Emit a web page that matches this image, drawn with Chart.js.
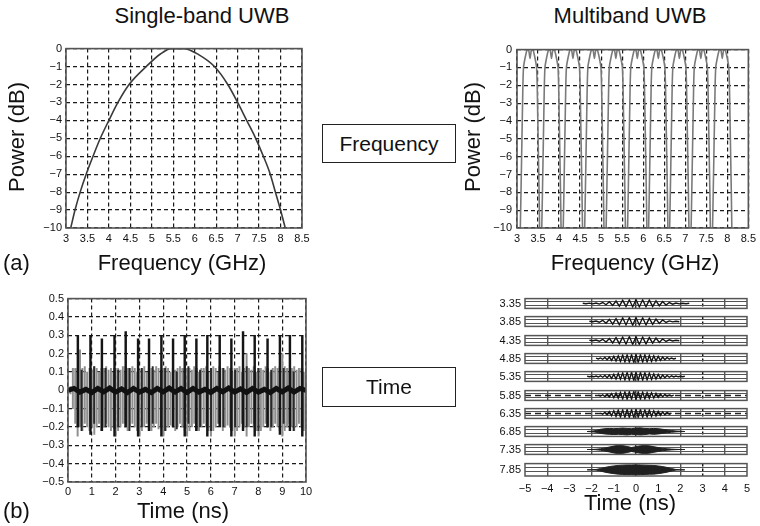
<!DOCTYPE html>
<html><head><meta charset="utf-8">
<script src="https://cdn.jsdelivr.net/npm/chart.js@4/dist/chart.umd.min.js"></script>
<style>
html,body{margin:0;padding:0;background:#fff;}
#fig{position:relative;width:760px;height:526px;overflow:hidden;font-family:'Liberation Sans',Arial,sans-serif;color:#111;}
canvas{position:absolute;}
.t{position:absolute;white-space:nowrap;line-height:1;}
.box{position:absolute;border:1.3px solid #222;box-sizing:border-box;display:flex;align-items:center;justify-content:center;font-size:21px;}
</style></head><body><div id="fig"></div>
<script>
// ---------------- data ----------------
// (a) single-band spectrum
const sbFreq  = [3.11,3.21,3.33,3.47,3.63,3.8,4.0,4.21,4.47,4.87,5.2,5.45,5.6,5.75,6.1,6.46,6.77,7.0,7.21,7.42,7.6,7.76,7.88,8.0,8.11];
const sbPower = [-10,-9,-8,-7,-6,-5,-4,-3,-2,-1,-0.3,0,0,0,-0.35,-1,-2,-3,-4,-5,-6,-7,-8,-9,-10];
// (a) multiband spectrum: band centres and band shape (offset GHz, dB)
const mbCenters = [3.31,3.82,4.33,4.84,5.35,5.86,6.36,6.86,7.37,7.88];
const bandOffsets = [-0.235,-0.215,-0.2,-0.185,-0.17,-0.155,-0.12,-0.07,-0.03,0,0.03,0.07,0.12,0.155,0.17,0.185,0.2,0.215,0.23];
const bandPower   = [-10.5,-8,-6,-4,-2,-1,-0.5,0,-0.05,-0.5,-0.05,0,-0.5,-1,-2,-4,-6,-8,-10.5];
const freqTicks = [3,3.5,4,4.5,5,5.5,6,6.5,7,7.5,8,8.5];
const powerTicks = [0,-1,-2,-3,-4,-5,-6,-7,-8,-9,-10];

// (b) single-band time signal
const bodyT = [0.05,0.15,0.25,0.35,0.45,0.55,0.65,0.75,0.85,0.95,1.05,1.15,1.25,1.35,1.45,1.55,1.65,1.75,1.85,1.95,2.05,2.15,2.25,2.35,2.45,2.55,2.65,2.75,2.85,2.95,3.05,3.15,3.25,3.35,3.45,3.55,3.65,3.75,3.85,3.95,4.05,4.15,4.25,4.35,4.45,4.55,4.65,4.75,4.85,4.95,5.05,5.15,5.25,5.35,5.45,5.55,5.65,5.75,5.85,5.95,6.05,6.15,6.25,6.35,6.45,6.55,6.65,6.75,6.85,6.95,7.05,7.15,7.25,7.35,7.45,7.55,7.65,7.75,7.85,7.95,8.05,8.15,8.25,8.35,8.45,8.55,8.65,8.75,8.85,8.95,9.05,9.15,9.25,9.35,9.45,9.55,9.65,9.75,9.85,9.95];
const bodyHi = [0.02,0.12,0.12,0.1,0.22,0.12,0.13,0.1,0.12,0.11,
  0.13,0.12,0.1,0.12,0.12,0.13,0.11,0.12,0.1,0.12,
  0.12,0.11,0.13,0.1,0.12,0.12,0.13,0.12,0.1,0.11,
  0.12,0.13,0.1,0.12,0.12,0.11,0.13,0.12,0.1,0.12,
  0.13,0.12,0.1,0.12,0.11,0.12,0.13,0.12,0.1,0.12,
  0.12,0.11,0.13,0.12,0.1,0.12,0.12,0.13,0.1,0.12,
  0.13,0.12,0.1,0.12,0.12,0.11,0.13,0.12,0.1,0.12,
  0.12,0.13,0.1,0.12,0.2,0.12,0.11,0.13,0.1,0.12,
  0.12,0.11,0.13,0.12,0.1,0.12,0.13,0.12,0.1,0.2,
  0.13,0.12,0.1,0.12,0.13,0.11,0.12,0.12,0.1,0.12];
const bodyLo = [-0.02,-0.1,-0.18,-0.25,-0.2,-0.22,-0.18,-0.2,-0.22,-0.2,
  -0.24,-0.2,-0.18,-0.22,-0.2,-0.18,-0.2,-0.22,-0.2,-0.25,
  -0.22,-0.2,-0.18,-0.2,-0.22,-0.2,-0.18,-0.2,-0.22,-0.25,
  -0.22,-0.2,-0.18,-0.2,-0.22,-0.2,-0.18,-0.21,-0.2,-0.25,
  -0.22,-0.2,-0.19,-0.2,-0.22,-0.2,-0.18,-0.2,-0.22,-0.25,
  -0.22,-0.2,-0.18,-0.21,-0.22,-0.2,-0.18,-0.2,-0.22,-0.25,
  -0.22,-0.2,-0.18,-0.2,-0.22,-0.2,-0.19,-0.2,-0.22,-0.25,
  -0.22,-0.2,-0.18,-0.2,-0.25,-0.2,-0.18,-0.2,-0.22,-0.25,
  -0.22,-0.2,-0.18,-0.2,-0.22,-0.2,-0.18,-0.2,-0.22,-0.25,
  -0.22,-0.2,-0.18,-0.2,-0.22,-0.2,-0.18,-0.2,-0.22,-0.25];
const spikeT  = [0.49,1.02,1.5,2.03,2.5,3.02,3.48,4.0,4.49,4.98,5.47,5.93,6.45,6.94,7.43,7.92,8.46,8.98,9.4,9.92];
const spikeHi = [0.30,0.30,0.28,0.30,0.32,0.28,0.28,0.30,0.28,0.30,0.28,0.30,0.30,0.28,0.32,0.30,0.28,0.30,0.30,0.30];
const spikeLo = [-0.2,-0.24,-0.22,-0.25,-0.2,-0.25,-0.22,-0.25,-0.2,-0.25,-0.22,-0.25,-0.2,-0.25,-0.22,-0.25,-0.2,-0.24,-0.22,-0.25];
const darkT  = [0.41,0.57,0.94,1.1,1.42,1.58,1.95,2.11,2.42,2.58,2.94,3.1,3.4,3.56,3.92,4.08,4.41,4.57,4.9,5.06,5.39,5.55,5.85,6.01,6.37,6.53,6.86,7.02,7.35,7.51,7.84,8.0,8.38,8.54,8.9,9.06,9.32,9.48,9.84];
const darkHi = [0.12,0.11,0.12,0.13,0.1,0.12,0.12,0.11,0.13,0.12,0.1,0.12,0.12,0.13,0.11,0.12,0.12,0.1,0.12,0.13,0.12,0.11,0.1,0.12,0.13,0.12,0.12,0.11,0.12,0.13,0.1,0.12,0.12,0.11,0.13,0.12,0.12,0.1,0.12];
const darkLo = [-0.2,-0.22,-0.2,-0.18,-0.22,-0.2,-0.21,-0.2,-0.18,-0.22,-0.2,-0.2,-0.22,-0.18,-0.2,-0.22,-0.2,-0.21,-0.2,-0.18,-0.22,-0.2,-0.2,-0.22,-0.18,-0.2,-0.22,-0.2,-0.21,-0.2,-0.18,-0.22,-0.2,-0.2,-0.22,-0.18,-0.2,-0.22,-0.2];
const coreT = [0,0.25,0.5,0.75,1,1.25,1.5,1.75,2,2.25,2.5,2.75,3,3.25,3.5,3.75,4,4.25,4.5,4.75,5,5.25,5.5,5.75,6,6.25,6.5,6.75,7,7.25,7.5,7.75,8,8.25,8.5,8.75,9,9.25,9.5,9.75,10];
const coreY = [0,0.01,-0.01,0.005,-0.012,0.01,-0.008,0.012,-0.01,0.008,-0.012,0.01,-0.01,0.005,-0.012,0.01,-0.008,0.012,-0.01,0.01,-0.012,0.01,-0.01,0.005,-0.012,0.01,-0.008,0.012,-0.01,0.008,-0.012,0.01,-0.01,0.005,-0.012,0.01,-0.008,0.012,-0.01,0.01,0];
const timeTicksSB = [0,1,2,3,4,5,6,7,8,9,10];
const ampTicks = [0.5,0.4,0.3,0.2,0.1,0,-0.1,-0.2,-0.3,-0.4,-0.5];

// (b) multiband time signals (one strip per band)
const stripLabels = ['3.35','3.85','4.35','4.85','5.35','5.85','6.35','6.85','7.35','7.85'];
const waveTslow = [-2.4,-2.25,-2.1,-1.95,-1.8,-1.65,-1.5,-1.35,-1.2,-1.05,-0.9,-0.75,-0.6,-0.45,-0.3,-0.15,0,0.15,0.3,0.45,0.6,0.75,0.9,1.05,1.2,1.35,1.5,1.65,1.8,1.95,2.1,2.25,2.4];
const waveTfast = [-2.5,-2.4,-2.3,-2.2,-2.1,-2,-1.9,-1.8,-1.7,-1.6,-1.5,-1.4,-1.3,-1.2,-1.1,-1,-0.9,-0.8,-0.7,-0.6,-0.5,-0.4,-0.3,-0.2,-0.1,0,0.1,0.2,0.3,0.4,0.5,0.6,0.7,0.8,0.9,1,1.1,1.2,1.3,1.4,1.5,1.6,1.7,1.8,1.9,2,2.1,2.2,2.3,2.4,2.5];
const wave335 = [0.05,-0.05,0.08,-0.08,0.1,-0.12,0.2,-0.25,0.35,-0.4,0.5,-0.55,0.65,-0.6,0.75,-0.7,0.8,-0.7,0.75,-0.65,0.7,-0.6,0.55,-0.45,0.4,-0.3,0.2,-0.15,0.1,-0.08,0.06,-0.05,0.04];
const wave385 = [null,null,0.05,-0.06,0.1,-0.15,0.25,-0.35,0.45,-0.55,0.6,-0.65,0.75,-0.7,0.8,-0.75,0.8,-0.7,0.75,-0.7,0.65,-0.6,0.5,-0.4,0.3,-0.2,0.12,-0.08,0.05,-0.04,null,null,null];
const wave435 = [null,null,0.04,-0.05,0.1,-0.15,0.25,-0.3,0.4,-0.5,0.6,-0.65,0.7,-0.75,0.8,-0.8,0.75,-0.8,0.7,-0.7,0.6,-0.55,0.5,-0.4,0.3,-0.2,0.15,-0.1,0.05,-0.04,null,null,null];
const wave485 = [null,null,null,null,null,null,null,0.06,-0.08,0.12,-0.15,0.22,-0.25,0.3,-0.38,0.45,-0.5,0.55,-0.62,0.7,-0.7,0.75,-0.75,0.8,-0.85,0.85,-0.8,0.8,-0.75,0.75,-0.7,0.62,-0.62,0.55,-0.5,0.45,-0.38,0.3,-0.25,0.2,-0.15,0.1,-0.08,0.05,null,null,null,null,null,null,null];
const wave535 = [null,null,null,0.05,-0.05,0.06,-0.06,0.1,-0.1,0.15,-0.15,0.22,-0.25,0.3,-0.38,0.45,-0.5,0.62,-0.56,0.75,-0.7,0.85,-0.75,0.9,-0.85,0.9,-0.8,0.85,-0.75,0.8,-0.7,0.7,-0.62,0.56,-0.5,0.45,-0.38,0.3,-0.25,0.2,-0.15,0.12,-0.1,0.08,-0.06,0.06,-0.05,0.05,null,null,null];
const wave585 = [null,null,null,null,null,null,null,null,0.08,-0.1,0.15,-0.2,0.25,-0.3,0.38,-0.45,0.5,-0.56,0.62,-0.7,0.75,-0.75,0.8,-0.75,0.85,-0.8,0.75,-0.75,0.7,-0.7,0.62,-0.56,0.56,-0.5,0.45,-0.38,0.3,-0.25,0.2,-0.15,0.12,-0.08,0.06,null,null,null,null,null,null,null,null];
const wave635 = [null,null,null,null,null,null,null,null,null,0.1,-0.12,0.2,-0.25,0.38,-0.45,0.56,-0.62,0.7,-0.75,0.75,-0.8,0.85,-0.85,0.8,-0.85,0.9,-0.8,0.85,-0.75,0.75,-0.7,0.7,-0.62,0.56,-0.5,0.45,-0.38,0.3,-0.25,0.2,-0.12,0.08,null,null,null,null,null,null,null,null,null];
const stripWaves = [wave335,wave385,wave435,wave485,wave535,wave585,wave635];
const stripWaveT = [waveTslow,waveTslow,waveTslow,waveTfast,waveTfast,waveTfast,waveTfast];
const stripFloor = [null,null,null,null,null,0,0,null,null,null];
const blobT = [-2.2,-2,-1.8,-1.6,-1.4,-1.2,-1,-0.8,-0.6,-0.4,-0.2,0,0.2,0.4,0.6,0.8,1,1.2,1.4,1.6,1.8,2,2.2];
const blob685Hi = [0,0.06,0.2,0.45,0.58,0.62,0.58,0.62,0.7,0.62,0.58,0.7,0.75,0.62,0.58,0.62,0.58,0.45,0.32,0.2,0.1,0.06,0];
const blob685Lo = [0,-0.06,-0.15,-0.38,-0.5,-0.58,-0.62,-0.58,-0.62,-0.7,-0.58,-0.62,-0.7,-0.62,-0.5,-0.58,-0.5,-0.38,-0.25,-0.15,-0.08,-0.04,0];
const blob735Hi = [0,0,0.06,0.15,0.32,0.5,0.7,0.85,0.8,0.62,0.4,0.58,0.75,0.85,0.75,0.58,0.4,0.25,0.15,0.08,0.03,0,0];
const blob735Lo = [0,0,-0.06,-0.15,-0.32,-0.5,-0.7,-0.85,-0.8,-0.62,-0.4,-0.58,-0.75,-0.85,-0.75,-0.58,-0.4,-0.25,-0.15,-0.08,-0.03,0,0];
const blob785Hi = [0,0,0.05,0.2,0.38,0.52,0.62,0.7,0.75,0.78,0.78,0.8,0.78,0.75,0.72,0.7,0.62,0.52,0.38,0.2,0.05,0,0];
const blob785Lo = [0,0,-0.05,-0.2,-0.38,-0.52,-0.62,-0.7,-0.75,-0.78,-0.78,-0.8,-0.78,-0.75,-0.72,-0.7,-0.62,-0.52,-0.38,-0.2,-0.05,0,0];
const blobHi = [blob685Hi, blob735Hi, blob785Hi];
const blobLo = [blob685Lo, blob735Lo, blob785Lo];
const timeTicksMB = [-5,-4,-3,-2,-1,0,1,2,3,4,5];
const stripTicks = [-0.33,0,0.33];

// ---------------- layout / style ----------------
const FONT = "'Liberation Sans', Arial, sans-serif";
Chart.defaults.font.family = FONT;
Chart.defaults.color = '#111';
Chart.defaults.animation = false;
Chart.defaults.plugins.legend.display = false;
Chart.defaults.plugins.tooltip.enabled = false;
const fig = document.getElementById('fig');
const minus = v => String(v).replace('-', '\u2212');
const setTicks = arr => scale => { scale.ticks = arr.map(v => ({value: v})); };

const framePlugin = {
  id: 'frame',
  afterDraw(chart, args, opts) {
    const a = chart.chartArea, c = chart.ctx;
    c.save(); c.strokeStyle = opts.color || '#444'; c.lineWidth = opts.width || 1.5;
    c.strokeRect(a.left, a.top, a.right - a.left, a.bottom - a.top); c.restore();
  }
};

function makeCanvas(plot, yW, xH, padTop, padRight, padBottom) {
  const cv = document.createElement('canvas');
  const w = plot.R - plot.L + yW + padRight;
  const h = plot.B - plot.T + padTop + xH + padBottom;
  cv.width = w; cv.height = h;
  cv.style.left = (plot.L - yW) + 'px'; cv.style.top = (plot.T - padTop) + 'px';
  cv.style.width = w + 'px'; cv.style.height = h + 'px';
  fig.appendChild(cv);
  return cv;
}
function text(str, cx, cy, fs, opts = {}) {
  const d = document.createElement('div');
  d.className = 't'; d.textContent = str; d.style.fontSize = fs + 'px';
  if (opts.rotate) {
    d.style.left = cx + 'px'; d.style.top = cy + 'px';
    d.style.transform = 'translate(-50%,-50%) rotate(-90deg)';
  } else if (opts.left) {
    d.style.left = cx + 'px'; d.style.top = (cy - 0.4885 * fs) + 'px';
  } else {
    d.style.left = cx + 'px'; d.style.top = (cy - 0.4885 * fs) + 'px';
    d.style.transform = 'translateX(-50%)';
  }
  fig.appendChild(d);
}
function box(str, l, t, w, h) {
  const d = document.createElement('div');
  d.className = 'box'; d.textContent = str;
  Object.assign(d.style, {left: l + 'px', top: t + 'px', width: w + 'px', height: h + 'px'});
  fig.appendChild(d);
}

const tickFont = {size: 11, family: FONT};
const gridDark = {color: '#1a1a1a', lineWidth: 1.2, drawTicks: false};
const dashB = {display: false, dash: [4, 3]};

function scalesFor(xMin, xMax, xTicks, yMin, yMax, yTicks, yW, xH, xPad, yPad) {
  return {
    x: {type: 'linear', min: xMin, max: xMax, offset: false, afterBuildTicks: setTicks(xTicks),
        afterFit: s => { s.height = xH; },
        ticks: {font: tickFont, maxRotation: 0, autoSkip: false, padding: xPad, callback: v => minus(v)},
        grid: {...gridDark, offset: false}, border: dashB},
    y: {type: 'linear', min: yMin, max: yMax, afterBuildTicks: setTicks(yTicks),
        afterFit: s => { s.width = yW; },
        ticks: {font: tickFont, autoSkip: false, padding: yPad, callback: v => minus(v)},
        grid: gridDark, border: dashB}
  };
}

// ---------- (a) single band ----------
const pTL = {L: 66, T: 46, R: 302, B: 228};
new Chart(makeCanvas(pTL, 50, 30, 8, 12, 0), {
  type: 'line',
  data: {datasets: [{data: sbFreq.map((f, i) => ({x: f, y: sbPower[i]})), borderColor: '#3a3a3a', borderWidth: 1.6,
    pointRadius: 0, cubicInterpolationMode: 'monotone'}]},
  options: {responsive: false, layout: {padding: {top: 8, right: 12, left: 0, bottom: 0}},
    scales: scalesFor(3, 8.5, freqTicks, -10, 0, powerTicks, 50, 30, 4, 4),
    plugins: {frame: {color: '#555', width: 1.6}}},
  plugins: [framePlugin]
});

// ---------- (a) multiband ----------
const pTR = {L: 517, T: 46, R: 752, B: 228};
new Chart(makeCanvas(pTR, 50, 30, 8, 8, 0), {
  type: 'line',
  data: {datasets: mbCenters.map(c => ({
    data: bandOffsets.map((o, i) => ({x: c + o, y: bandPower[i]})),
    borderColor: '#7a7a7a', borderWidth: 1.6, pointRadius: 0, tension: 0.15}))},
  options: {responsive: false, layout: {padding: {top: 8, right: 8, left: 0, bottom: 0}},
    scales: scalesFor(3, 8.5, freqTicks, -10, 0, powerTicks, 50, 30, 4, 5),
    plugins: {frame: {color: '#555', width: 1.6}}},
  plugins: [framePlugin]
});

// ---------- (b) single band ----------
const pBL = {L: 68, T: 296, R: 306, B: 482};
const blScales = scalesFor(0, 10, timeTicksSB, -0.5, 0.5, ampTicks, 50, 30, 3, 4);
new Chart(makeCanvas(pBL, 50, 30, 8, 12, 0), {
  type: 'bar',
  data: {datasets: [
    {type: 'line', order: 1, data: coreT.map((t, i) => ({x: t, y: coreY[i]})), borderColor: '#111', borderWidth: 5, pointRadius: 0},
    {type: 'bar', order: 2, data: spikeT.map((t, i) => ({x: t, y: [spikeLo[i], spikeHi[i]]})), backgroundColor: '#151515', barThickness: 1.8},
    {type: 'bar', order: 3, data: darkT.map((t, i) => ({x: t, y: [darkLo[i], darkHi[i]]})), backgroundColor: '#2a2a2a', barThickness: 1.3},
    {type: 'bar', order: 4, data: bodyT.map((t, i) => ({x: t, y: [bodyLo[i], bodyHi[i]]})), backgroundColor: '#8f8f8f', barThickness: 1.3}
  ]},
  options: {responsive: false, layout: {padding: {top: 8, right: 12, left: 0, bottom: 0}},
    scales: blScales, plugins: {frame: {color: '#555', width: 1.6}}},
  plugins: [framePlugin]
});

// ---------- (b) multiband strips ----------
const stripL = 525, stripR = 747, stripTop0 = 296, stripPitch = 18.3, stripH = 15;
for (let k = 0; k < stripLabels.length; k++) {
  const last = k === stripLabels.length - 1;
  const T = stripTop0 + stripPitch * k;
  const plot = {L: stripL, T: T, R: stripR, B: T + stripH};
  const xH = last ? 28 : 0, padB = last ? 0 : 8;
  const ds = [];
  if (k < stripWaves.length) {
    const pts = [];
    stripWaveT[k].forEach((t, i) => { const v = stripWaves[k][i]; if (v !== null && v !== undefined) pts.push({x: t, y: v}); });
    ds.push({data: pts, borderColor: '#151515', borderWidth: 1.4, pointRadius: 0, tension: 0});
  } else {
    const b = k - stripWaves.length;
    ds.push({data: blobT.map((t, i) => ({x: t, y: blobHi[b][i]})), borderColor: '#222', borderWidth: 1,
      pointRadius: 0, fill: '+1', backgroundColor: '#202020'});
    ds.push({data: blobT.map((t, i) => ({x: t, y: blobLo[b][i]})), borderColor: '#222', borderWidth: 1, pointRadius: 0});
  }
  if (stripFloor[k] !== null) {
    ds.push({data: [{x: timeTicksMB[0], y: stripFloor[k]}, {x: timeTicksMB[timeTicksMB.length - 1], y: stripFloor[k]}],
      borderColor: '#222', borderWidth: 1.4, borderDash: [6, 4], pointRadius: 0});
  }
  new Chart(makeCanvas(plot, 45, xH, 8, 12, padB), {
    type: 'line',
    data: {datasets: ds},
    options: {responsive: false, layout: {padding: {top: 8, right: 12, left: 0, bottom: padB}},
      scales: {
        x: {type: 'linear', min: -5, max: 5, afterBuildTicks: setTicks(timeTicksMB), afterFit: s => { s.height = xH; },
          ticks: {display: last, font: tickFont, maxRotation: 0, autoSkip: false, padding: 6, callback: v => minus(v)},
          grid: {drawTicks: false, lineWidth: 1.4,
            color: c => { const v = c.tick ? c.tick.value : null;
              if (v === 3) return '#111'; if (v === 0) return '#333';
              if (v === -4 || v === -2 || v === 2 || v === 4) return '#555'; return 'rgba(0,0,0,0)'; }},
          border: {display: false, dash: c => (c.tick && c.tick.value === 3) ? [3, 2] : []}},
        y: {type: 'linear', min: -1, max: 1, afterBuildTicks: setTicks(stripTicks), afterFit: s => { s.width = 45; },
          ticks: {font: tickFont, padding: 4, autoSkip: false, callback: v => v === 0 ? stripLabels[k] : ''},
          grid: {drawTicks: false, lineWidth: 1, color: c => (c.tick && c.tick.value === 0) ? 'rgba(0,0,0,0)' : '#555'},
          border: {display: false}}
      },
      plugins: {frame: {color: '#555', width: 1.5}}},
    plugins: [framePlugin]
  });
}

// ---------------- texts ----------------
text('Single-band UWB', 202, 16, 22);
text('Multiband UWB', 630, 16, 22);
text('Power (dB)', 17, 137, 22, {rotate: true});
text('Power (dB)', 473, 137, 22, {rotate: true});
text('Frequency (GHz)', 182, 263, 22);
text('Frequency (GHz)', 635, 263, 22);
text('(a)', 3, 263, 22, {left: true});
text('(b)', 3, 511, 22, {left: true});
text('Time (ns)', 183, 511, 22);
text('Time (ns)', 630, 503, 22);
box('Frequency', 322, 124, 134, 39);
box('Time', 322, 367, 134, 40);
</script>
</body></html>
